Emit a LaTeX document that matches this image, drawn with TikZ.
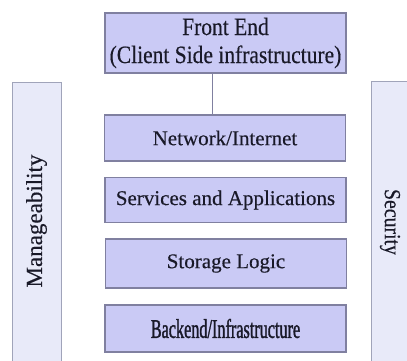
\documentclass[tikz,border=0pt]{standalone}
\usepackage{fontspec}
\setmainfont{Liberation Serif}[FakeBold=0.35]
\newfontfamily\condfont[FakeStretch=0.6,FakeBold=1.2]{Liberation Serif}
\newfontfamily\frontfont[FakeStretch=0.86,FakeBold=0.35]{Liberation Serif}
\definecolor{layerfill}{RGB}{202,202,245}
\definecolor{layerdraw}{RGB}{128,128,160}
\definecolor{sidefill}{RGB}{232,234,249}
\definecolor{sidedraw}{RGB}{160,164,186}
\definecolor{inkcol}{RGB}{25,25,40}
\tikzset{
  layer/.style={draw=layerdraw, line width=1.4pt, fill=layerfill, minimum width=241pt,
    inner sep=0pt, text=inkcol, font=\fontsize{21}{25}\selectfont, align=center},
  sidebox/.style={draw=sidedraw, line width=1.2pt, fill=sidefill, inner sep=0pt},
  sidetext/.style={text=inkcol, font=\fontsize{23}{26}\selectfont, inner sep=0pt},
  link/.style={draw=layerdraw, line width=1pt}
}
\begin{document}
\begin{tikzpicture}[x=1pt,y=-1pt]
\useasboundingbox (0,0) rectangle (407,360);
\fill[white] (0,0) rectangle (407,360);
% side boxes
\node[sidebox, minimum width=49pt, minimum height=290pt, anchor=north west] (mgbox) at (12,82) {};
\node[sidebox, minimum width=45pt, minimum height=290pt, anchor=north west] (secbox) at (371,81) {};
\node[sidetext, rotate=90] (mgtext) at (36.5,221) {Manageability};
\node[sidetext, rotate=-90, font=\frontfont\fontsize{23}{26}\selectfont] (sectext) at (390,222) {Security};
% layers
\node[layer, minimum height=60pt, font=\frontfont\fontsize{25}{28}\selectfont] (front) at (225.5,43) {Front End\\(Client Side infrastructure)};
\node[layer, minimum height=46pt] (net) at (225,138) {Network/Internet};
\node[layer, minimum height=45pt] (svc) at (225.5,200) {Services and Applications};
\node[layer, minimum height=49pt] (sto) at (226,263.5) {Storage Logic};
\node[layer, minimum height=47pt, font=\condfont\fontsize{27}{30}\selectfont] (back) at (225.5,328.5) {Backend/Infrastructure};
\draw[link] (front.south -| 212,0) -- (net.north -| 212,0);
\end{tikzpicture}
\end{document}
